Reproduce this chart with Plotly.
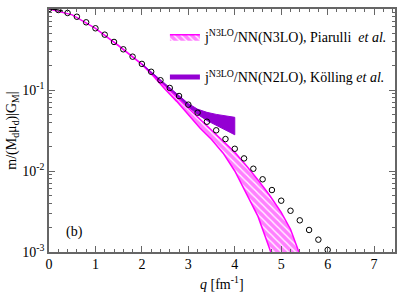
import plotly.graph_objects as go

# ---- data ----
q_data = [0.0, 0.2, 0.4, 0.6, 0.8, 1.0, 1.2, 1.4, 1.6, 1.8, 2.0, 2.2, 2.4, 2.6, 2.8,
          3.0, 3.2, 3.4, 3.6, 3.8, 4.0, 4.2, 4.4, 4.6, 4.8, 5.0, 5.2, 5.4, 5.6, 5.8, 6.0]
gm_data = [1.0, 0.972, 0.893, 0.803, 0.685, 0.578, 0.482, 0.392, 0.318, 0.258, 0.210,
           0.168, 0.132, 0.106, 0.0843, 0.0659, 0.0525, 0.0406, 0.0318, 0.0248, 0.0188,
           0.0143, 0.01067, 0.0079, 0.00582, 0.0043, 0.00323, 0.00246, 0.00187, 0.00142,
           0.00106]

# Piarulli band (upper and lower edges)
q_pia_up = [0.0, 0.5, 1.0, 1.5, 2.0, 2.25, 2.5, 2.75, 3.0, 3.25, 3.5, 3.75, 4.0, 4.25,
            4.5, 4.75, 5.0, 5.2, 5.4]
pia_up = [1.0, 0.847, 0.578, 0.353, 0.209, 0.153, 0.112, 0.0822, 0.0603, 0.0442, 0.0324,
          0.0237, 0.0170, 0.0116, 0.00776, 0.00501, 0.00309, 0.00191, 0.000933]
q_pia_lo = [0.0, 0.5, 1.0, 1.5, 2.0, 2.25, 2.5, 2.75, 3.0, 3.25, 3.5, 3.75, 4.0, 4.25,
            4.5, 4.75, 4.85]
pia_lo = [1.0, 0.847, 0.575, 0.351, 0.207, 0.148, 0.102, 0.0724, 0.0501, 0.0339, 0.0245,
          0.0166, 0.0100, 0.00537, 0.00275, 0.00110, 0.00074]

# Koelling band
q_kol = [2.0, 2.4, 2.8, 3.0, 3.2, 3.4, 3.6, 3.8, 4.0]
kol_up = [0.210, 0.133, 0.085, 0.068, 0.058, 0.053, 0.050, 0.048, 0.046]
kol_lo = [0.208, 0.130, 0.080, 0.062, 0.050, 0.042, 0.036, 0.032, 0.028]

# black reference curve at low q
q_black = [0.0, 0.15, 0.3]
gm_black = [1.0, 0.985, 0.94]

x_ticks = [0, 1, 2, 3, 4, 5, 6, 7]
y_ticks = [1, 0.1, 0.01, 0.001]
y_ticktext = ["10<sup>0</sup>", "10<sup>-1</sup>", "10<sup>-2</sup>", "10<sup>-3</sup>"]

MAG = "#ff00ff"
PUR = "#9400d3"
FONT = "Liberation Serif, Times New Roman, serif"
AX = "#666666"

fig = go.Figure()

fig.add_trace(go.Scatter(
    x=q_pia_up + q_pia_lo[::-1], y=pia_up + pia_lo[::-1],
    mode="lines", fill="toself", line=dict(color=MAG, width=1.5),
    fillcolor="white",
    fillpattern=dict(shape="\\", fgcolor=MAG, bgcolor="white", size=5, solidity=0.75),
    name="j<sup>N3LO</sup>/NN(N3LO), Piarulli  <i>et al.</i>",
    legendgroup="a", showlegend=True))

fig.add_trace(go.Scatter(
    x=q_kol + q_kol[::-1], y=kol_up + kol_lo[::-1],
    mode="lines", fill="toself", line=dict(color=PUR, width=1),
    fillcolor=PUR, showlegend=False, hoverinfo="skip"))

fig.add_trace(go.Scatter(
    x=[None], y=[None], mode="lines", line=dict(color=PUR, width=5),
    name="j<sup>N3LO</sup>/NN(N2LO), Kölling <i>et al.</i>",
    legendgroup="b", showlegend=True))

fig.add_trace(go.Scatter(
    x=q_black, y=gm_black, mode="lines", line=dict(color="black", width=1.2),
    showlegend=False))

fig.add_trace(go.Scatter(
    x=q_data, y=gm_data, mode="markers",
    marker=dict(symbol="circle-open", size=5.5, color="black", line=dict(width=1)),
    showlegend=False))

fig.add_annotation(x=0.55, y=-2.75, xref="x", yref="y", text="(b)", showarrow=False,
                   font=dict(family=FONT, size=14, color="black"))

# x-axis title as an annotation so it sits where the reference puts it
fig.add_annotation(x=0.5, y=-0.128, xref="paper", yref="paper", text="<i>q</i> [fm<sup>-1</sup>]",
                   showarrow=False, xanchor="center", yanchor="middle",
                   font=dict(family=FONT, size=14, color="black"))

axis_common = dict(showline=True, linecolor=AX, linewidth=1.5, mirror="allticks",
                   ticks="inside", tickcolor=AX, ticklen=6, tickwidth=1,
                   showgrid=False, zeroline=False, automargin=False,
                   tickfont=dict(family=FONT, size=14, color="black"))

fig.update_xaxes(range=[0, 7.45], tickvals=x_ticks, ticklabelstandoff=-2,
                 minor=dict(ticks="inside", ticklen=3, dtick=0.2, tickcolor=AX, showgrid=False),
                 **axis_common)
fig.update_yaxes(type="log", range=[-3, 0], tickvals=y_ticks, ticktext=y_ticktext,
                 minor=dict(ticks="inside", ticklen=3, dtick="D1", tickcolor=AX, showgrid=False),
                 title=dict(text="m/(M<sub>d</sub>μ<sub>d</sub>)|G<sub>M</sub>|",
                            font=dict(family=FONT, size=14, color="black"), standoff=2),
                 **axis_common)

fig.update_layout(
    width=399, height=292,
    margin=dict(l=49, r=4, t=9, b=40),
    paper_bgcolor="white", plot_bgcolor="white",
    showlegend=True,
    legend=dict(x=0.335, y=0.95, xanchor="left", yanchor="top", bgcolor="rgba(0,0,0,0)",
                font=dict(family=FONT, size=14, color="black"), tracegroupgap=19,
                traceorder="grouped", itemwidth=30),
)

fig.write_html("out.html", config={"displayModeBar": False},
               post_script="document.body.style.margin='0';")
